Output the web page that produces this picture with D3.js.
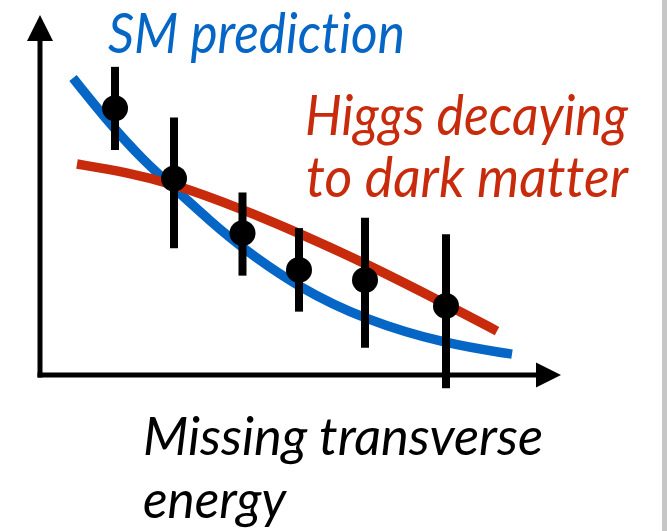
<!DOCTYPE html>
<html>
<head>
<meta charset="utf-8">
<script src="https://cdn.jsdelivr.net/npm/d3@7/dist/d3.min.js"></script>
<style>
  html, body { margin: 0; padding: 0; background: #fff; }
  svg { display: block; }
  text { font-family: Lato, "Open Sans", sans-serif; font-style: italic; font-variant-ligatures: none; font-feature-settings: "liga" 0, "clig" 0; }
</style>
</head>
<body>
<svg id="chart" width="667" height="531"></svg>
<script>
// Measured data: missing transverse energy (arbitrary units) vs event count (arbitrary units)
const dataX    = [15, 26.8, 40.5, 51.8, 65, 81.2];
const dataY    = [74.1, 54.6, 39.4, 29.2, 26.4, 19.2];
const dataHigh = [85.6, 71.5, 50.7, 40.8, 43.7, 39.1];
const dataLow  = [62.5, 35.2, 27.6, 17.6, 7.6, -3.7];

// Standard Model expectation
const smX = [6.6, 14, 20.6, 26.8, 34, 40.4, 51.8, 65, 81.2, 94.4];
const smY = [82.5, 69.7, 59.7, 51.9, 42.8, 35.3, 24.2, 15.3, 8.6, 5.8];

// Higgs -> dark matter expectation
const dmX = [7.4, 17, 26.8, 40.4, 51.8, 65, 81.2, 91.4];
const dmY = [58.6, 56.4, 53.1, 46.1, 39.4, 31.1, 19.7, 12.2];

// Text
const smLabel = "SM prediction";
const dmLabel = ["Higgs decaying", "to dark matter"];
const xLabel = ["Missing transverse", "energy"];

const axisMaxX = 104.2;
const axisMaxY = 100;

const svg = d3.select("#chart");
const W = 667, H = 531;

const x = d3.scaleLinear().domain([0, 100]).range([40, 540]);
const y = d3.scaleLinear().domain([0, 100]).range([375, 15]);

const blue = "#0566c5";
const red = "#c82a0c";

// page edge strip
svg.append("rect").attr("x", 662).attr("y", 0).attr("width", 5).attr("height", H).attr("fill", "#c6c6c6");

// axes with arrowheads
const head = 25;
const axes = svg.append("g");
axes.append("line")
  .attr("x1", x(0)).attr("y1", y(0))
  .attr("x2", x(axisMaxX) - head).attr("y2", y(0))
  .attr("stroke", "#000").attr("stroke-width", 5).attr("stroke-linecap", "square");
axes.append("line")
  .attr("x1", x(0)).attr("y1", y(0))
  .attr("x2", x(0)).attr("y2", y(axisMaxY) + head)
  .attr("stroke", "#000").attr("stroke-width", 5).attr("stroke-linecap", "square");
axes.append("path")
  .attr("d", `M${x(axisMaxX)},${y(0)} L${x(axisMaxX) - head},${y(0) - 12.5} L${x(axisMaxX) - head},${y(0) + 12.5} Z`)
  .attr("fill", "#000");
axes.append("path")
  .attr("d", `M${x(0)},${y(axisMaxY)} L${x(0) - 13},${y(axisMaxY) + head + 1} L${x(0) + 13},${y(axisMaxY) + head + 1} Z`)
  .attr("fill", "#000");

// prediction curves
const line = d3.line().x(d => x(d[0])).y(d => y(d[1])).curve(d3.curveBasis);

svg.append("path")
  .datum(d3.zip(smX, smY))
  .attr("d", line)
  .attr("fill", "none").attr("stroke", blue).attr("stroke-width", 9.5);

svg.append("path")
  .datum(d3.zip(dmX, dmY))
  .attr("d", line)
  .attr("fill", "none").attr("stroke", red).attr("stroke-width", 9.5);

// data points with error bars
const pts = dataX.map((v, i) => ({ x: v, y: dataY[i], hi: dataHigh[i], lo: dataLow[i] }));
const g = svg.append("g");
g.selectAll("line.err").data(pts).join("line")
  .attr("class", "err")
  .attr("x1", d => x(d.x)).attr("x2", d => x(d.x))
  .attr("y1", d => y(d.hi)).attr("y2", d => y(d.lo))
  .attr("stroke", "#000").attr("stroke-width", 8);
g.selectAll("circle").data(pts).join("circle")
  .attr("cx", d => x(d.x)).attr("cy", d => y(d.y)).attr("r", 13)
  .attr("fill", "#000");

// labels
function label(str, px, py, size, color, width) {
  svg.append("text")
    .attr("x", px).attr("y", py)
    .attr("font-size", size)
    .attr("fill", color)
    .attr("textLength", width)
    .attr("lengthAdjust", "spacingAndGlyphs")
    .text(str);
}
label(smLabel, 108, 53, 56, blue, 297);
label(dmLabel[0], 305, 135, 56, red, 323);
label(dmLabel[1], 306, 197, 56, red, 322);
label(xLabel[0], 143, 455, 53, "#000", 400);
label(xLabel[1], 143, 518, 53, "#000", 143);
</script>
</body>
</html>
